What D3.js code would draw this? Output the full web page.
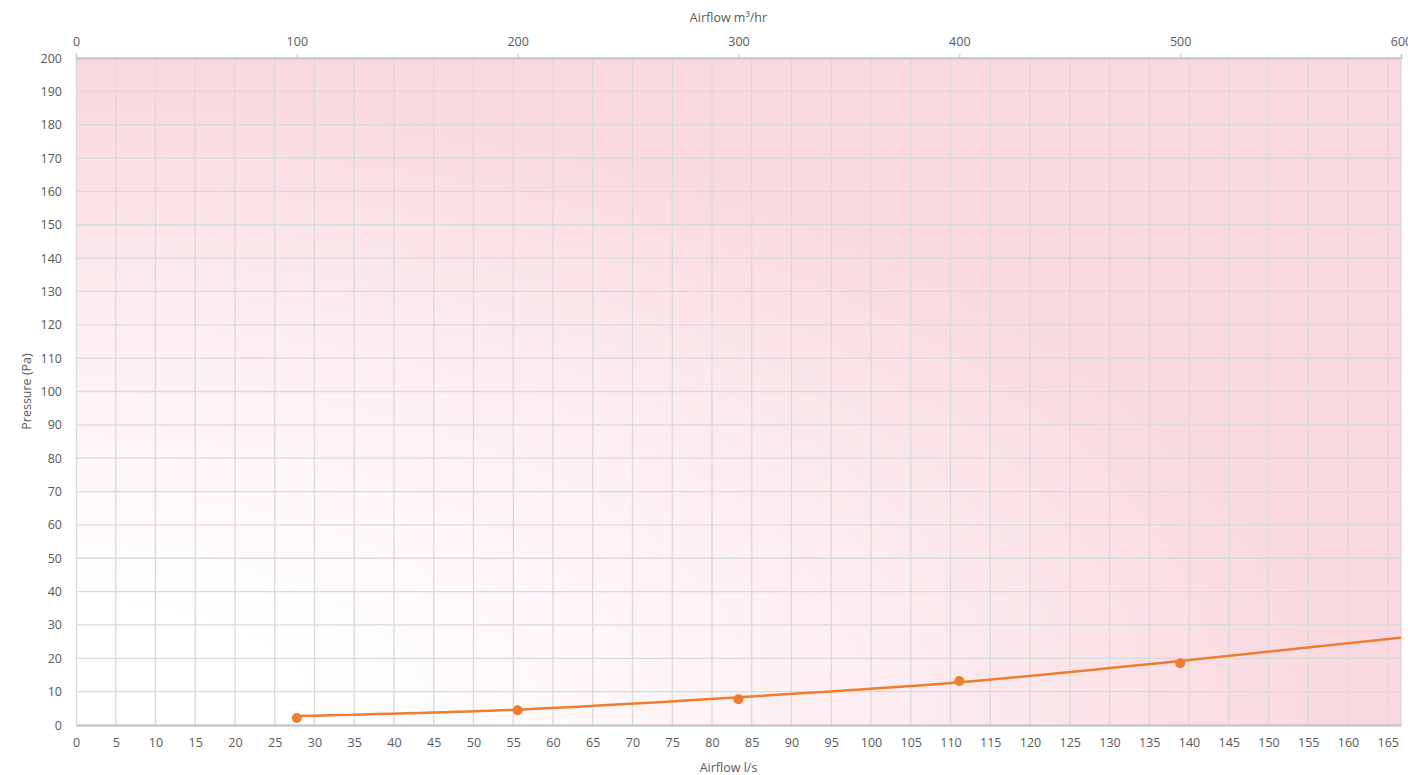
<!DOCTYPE html>
<html>
<head>
<meta charset="utf-8">
<script src="https://cdn.jsdelivr.net/npm/d3@7"></script>
<style>
  body { margin: 0; background: #fff; }
  svg text { font-family: "Open Sans", "Liberation Sans", sans-serif; font-size: 12.5px; fill: #595959; }
</style>
</head>
<body>
<div id="chart"></div>
<script>
// airflow in l/s, pressure in Pa
const curveFlow = [27.78, 55.56, 83.33, 111.11, 138.89, 166.67];
const curvePressure = [2.7, 4.6, 8.3, 12.8, 19.2, 26.2];
const pointFlow = [27.78, 55.56, 83.33, 111.11, 138.89];
const pointPressure = [2.1, 4.4, 7.7, 13.2, 18.5];
const bottomTicks = d3.range(0, 166, 5);
const topTicks = [0, 100, 200, 300, 400, 500, 600];
const leftTicks = d3.range(0, 201, 10);

const margin = {top: 58, right: 7, bottom: 50, left: 76},
    width = 1408 - margin.left - margin.right,
    height = 775 - margin.top - margin.bottom;

const svg = d3.select("#chart")
  .append("svg")
    .attr("width", 1408)
    .attr("height", 775)
  .append("g")
    .attr("transform", `translate(${margin.left}, ${margin.top})`);

const x = d3.scaleLinear().domain([0, 600 / 3.6]).range([0, width]);
const xTop = d3.scaleLinear().domain([0, 600]).range([0, width]);
const y = d3.scaleLinear().domain([0, 200]).range([height, 0]);

// background gradient, white in the bottom-left corner
const grad = svg.append("defs").append("radialGradient")
    .attr("id", "bg").attr("cx", 0).attr("cy", 1).attr("r", 1).attr("fx", 0).attr("fy", 1);
grad.append("stop").attr("offset", 0.18).attr("stop-color", "#ffffff");
grad.append("stop").attr("offset", 0.6).attr("stop-color", "#fdeef1");
grad.append("stop").attr("offset", 0.95).attr("stop-color", "#f9d9e0");
grad.append("stop").attr("offset", 1).attr("stop-color", "#f9d8e0");

svg.append("rect")
    .attr("width", width).attr("height", height)
    .attr("fill", "url(#bg)");

// grid
svg.append("g")
  .selectAll("line")
  .data(bottomTicks.slice(1))
  .join("line")
    .attr("x1", d => x(d)).attr("x2", d => x(d))
    .attr("y1", 0).attr("y2", height)
    .attr("stroke", "#d9d9d9").attr("stroke-width", 1.3);
svg.append("line")
    .attr("x1", width).attr("x2", width).attr("y1", 0).attr("y2", height)
    .attr("stroke", "#d9d9d9").attr("stroke-width", 1.3);
svg.append("g")
  .selectAll("line")
  .data(leftTicks.slice(1))
  .join("line")
    .attr("x1", 0).attr("x2", width)
    .attr("y1", d => y(d)).attr("y2", d => y(d))
    .attr("stroke", "#d9d9d9").attr("stroke-width", 1.3);

// axes
const xAxis = svg.append("g")
    .attr("transform", `translate(0, ${height})`)
    .call(d3.axisBottom(x).tickValues(bottomTicks).tickSize(0).tickPadding(13));
const xTopAxis = svg.append("g")
    .call(d3.axisTop(xTop).tickValues(topTicks).tickSize(4).tickPadding(8));
const yAxis = svg.append("g")
    .call(d3.axisLeft(y).tickValues(leftTicks).tickSize(0).tickPadding(14));
[xAxis, xTopAxis, yAxis].forEach(a => {
  a.select(".domain").attr("stroke", "#bfbfbf").attr("stroke-width", 2);
  a.selectAll(".tick line").attr("stroke", "#bfbfbf");
  a.selectAll("text").attr("fill", "#595959").style("font-size", "12.5px");
});
xTopAxis.select(".domain").attr("stroke-width", 1.5);
yAxis.select(".domain").attr("stroke", "#d9d9d9").attr("stroke-width", 1.3);

// titles
svg.append("text")
    .attr("x", width / 2 - 10).attr("y", -36)
    .attr("text-anchor", "middle")
    .text("Airflow m³/hr");
svg.append("text")
    .attr("x", width / 2 - 10).attr("y", height + 47)
    .attr("text-anchor", "middle")
    .text("Airflow l/s");
svg.append("text")
    .attr("transform", `translate(-45, ${height / 2}) rotate(-90)`)
    .attr("text-anchor", "middle")
    .text("Pressure (Pa)");

// fan curve
const curveData = curveFlow.map((f, i) => [f, curvePressure[i]]);
svg.append("path")
    .datum(curveData)
    .attr("fill", "none")
    .attr("stroke", "#ed7d31")
    .attr("stroke-width", 2.5)
    .attr("d", d3.line()
        .curve(d3.curveMonotoneX)
        .x(d => x(d[0]))
        .y(d => y(d[1])));

// measured points
svg.append("g")
  .selectAll("circle")
  .data(pointFlow.map((f, i) => [f, pointPressure[i]]))
  .join("circle")
    .attr("cx", d => x(d[0]))
    .attr("cy", d => y(d[1]))
    .attr("r", 5)
    .attr("fill", "#ed7d31");
</script>
</body>
</html>
